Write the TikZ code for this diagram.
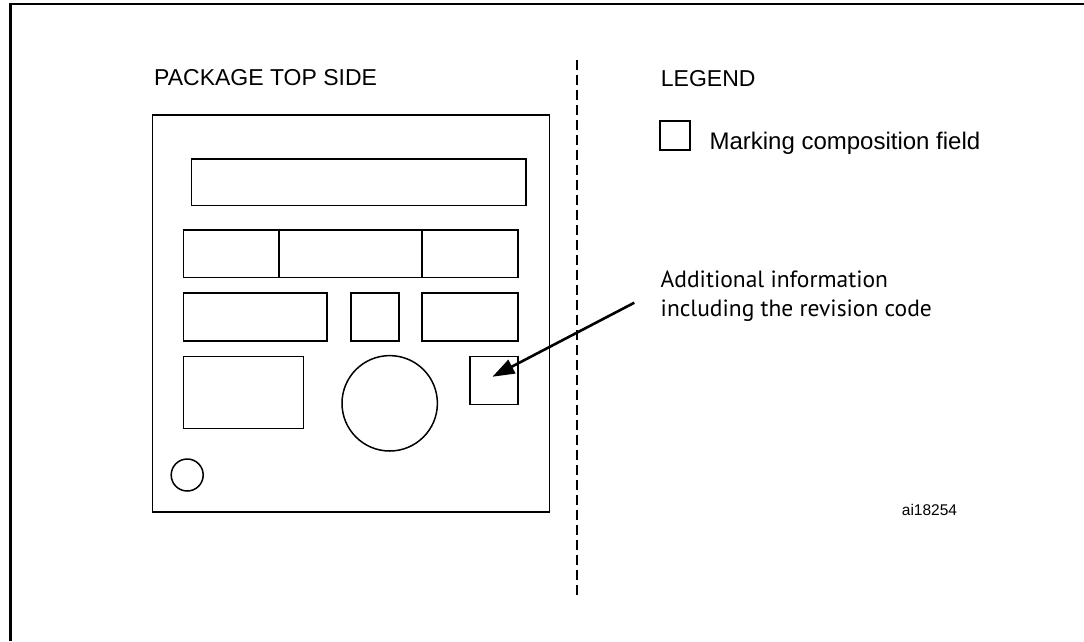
\documentclass[tikz,border=0pt]{standalone}
\usepackage{fontspec}
\setmainfont{Liberation Sans}
\newfontfamily\infofont{PT Sans}
\usetikzlibrary{arrows.meta}
\begin{document}
\begin{tikzpicture}[x=1pt,y=-1pt,
  field/.style={draw=black,line width=1.5pt,rectangle,inner sep=0pt,anchor=north west},
  roundfield/.style={draw=black,line width=1.5pt,circle,inner sep=0pt},
  frameline/.style={line width=2.2pt},
  pkg/.style={draw=black,line width=1.8pt,rectangle,inner sep=0pt,anchor=north west},
  lbl/.style={inner sep=0pt,anchor=base west,font=\fontsize{23}{27}\selectfont},
  info/.style={inner sep=0pt,anchor=north west,align=left,font=\infofont\fontsize{23.5}{29}\selectfont},
  pointer/.style={line width=2.6pt,-{Triangle[length=22pt,width=15pt]}},
  sep/.style={line width=1.5pt,dash pattern=on 10pt off 5pt}]
\useasboundingbox (0,0) rectangle (1084,641);
% outer frame (open at right and bottom)
\coordinate (fbl) at (10.5,641);
\coordinate (ftl) at (10.5,4);
\coordinate (ftr) at (1084,4);
\draw[frameline] (fbl) -- (ftl) -- (ftr);
% separator
\coordinate (s1) at (577,60);
\coordinate (s2) at (577,597);
\draw[sep] (s1) -- (s2);
% titles
\node[lbl] (title) at (154,85.7) {PACKAGE TOP SIDE};
\node[lbl] (legend) at (660.7,86) {LEGEND};
% package
\node[pkg,minimum width=397pt,minimum height=397pt] (pkg) at (151.5,114) {};
\node[field,minimum width=334.6pt,minimum height=46.4pt] (r0) at (190.7,158.3) {};
\node[field,minimum width=95.6pt,minimum height=47.7pt] (r1a) at (182.7,229) {};
\node[field,minimum width=142.7pt,minimum height=47.7pt] (r1b) at (278.3,229) {};
\node[field,minimum width=96pt,minimum height=47.7pt] (r1c) at (421,229) {};
\node[field,minimum width=143.6pt,minimum height=47.7pt] (r2a) at (182.7,292.3) {};
\node[field,minimum width=48pt,minimum height=47.7pt] (r2b) at (350,292.3) {};
\node[field,minimum width=95.7pt,minimum height=47.7pt] (r2c) at (421.3,292.3) {};
\node[field,minimum width=120pt,minimum height=72pt] (r3a) at (182.7,355.7) {};
\node[roundfield,minimum size=95.4pt] (big) at (389.7,403.3) {};
\node[field,minimum width=48pt,minimum height=48pt] (sq) at (469,355.7) {};
\node[roundfield,minimum size=32pt] (dot) at (187.2,475) {};
% legend
\node[field,minimum width=30pt,minimum height=29.3pt] (lsq) at (659.3,120) {};
\node[lbl,font=\fontsize{24}{28}\selectfont] (ltext) at (709.3,149) {Marking composition field};
% info text and arrow
\node[info] (infotext) at (660.5,271) {Additional information\\including the revision code};
\coordinate (astart) at (634.3,302.7);
\draw[pointer] (astart) -- ([shift={(-1.3,-3.7)}]sq.center);
% id
\node[lbl,font=\fontsize{15.5}{18}\selectfont] (id) at (901.7,515.7) {ai18254};
\end{tikzpicture}
\end{document}
